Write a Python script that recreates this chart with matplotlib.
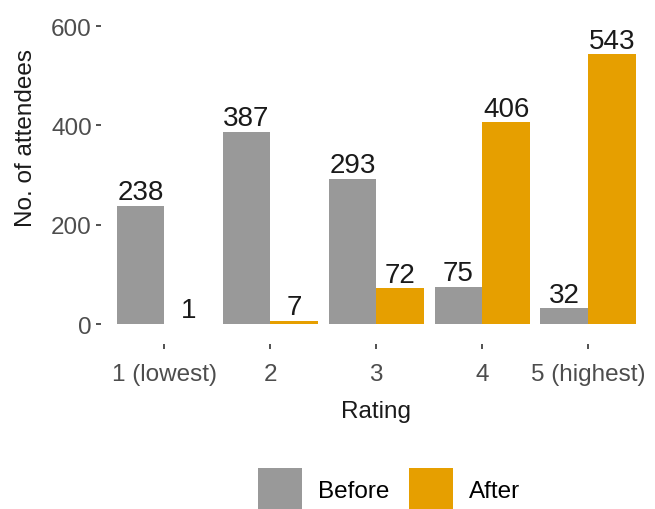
import matplotlib
matplotlib.use("Agg")
import matplotlib.pyplot as plt
import numpy as np
from matplotlib.patches import Patch

plt.rcParams['font.family'] = ['Liberation Sans', 'DejaVu Sans']

categories = ["1 (lowest)", "2", "3", "4", "5 (highest)"]
before = [238, 387, 293, 75, 32]
after = [1, 7, 72, 406, 543]
series_names = ["Before", "After"]
colors = ["#999999", "#E69F00"]
yticks = [0, 200, 400, 600]

fig = plt.figure(figsize=(6.55, 5.10), dpi=100)
ax = fig.add_axes([0.154, 0.3235, 0.841, 0.6565])

x = np.arange(1, len(categories) + 1)
w = 0.45
for vals, off, col in [(before, -w / 2, colors[0]), (after, w / 2, colors[1])]:
    ax.bar(x + off, vals, width=w, color=col, linewidth=0)
    for xi, v in zip(x + off, vals):
        ax.annotate(str(v), (xi, v), xytext=(0, 0.5), textcoords="offset points",
                    ha="center", va="bottom", fontsize=20, color="#1a1a1a")

ax.set_xlim(0.4, 5.6)
ax.set_ylim(-40, 634)
ax.set_xticks(x)
ax.set_xticklabels(categories)
ax.set_yticks(yticks)
for s in ax.spines.values():
    s.set_visible(False)
ax.tick_params(axis="both", colors="#333333", labelcolor="#4d4d4d", labelsize=17.5,
               length=3.5, width=1.2)
ax.tick_params(axis="x", pad=10)
ax.tick_params(axis="y", pad=3)
ax.set_xlabel("Rating", fontsize=17.5, color="#1a1a1a", labelpad=11)
ax.set_ylabel("No. of attendees", fontsize=17.5, color="#1a1a1a")
ax.yaxis.set_label_coords(-0.116, 0.618)

handles = [Patch(facecolor=c, edgecolor="none", label=n) for c, n in zip(colors, series_names)]
fig.legend(handles=handles, loc="center", bbox_to_anchor=(0.594, 1 - 491 / 510), ncol=2,
           frameon=False, fontsize=17.5, handlelength=1.81, handleheight=2.41,
           handletextpad=0.66, columnspacing=0.78, borderaxespad=0, borderpad=0)

fig.savefig("out.png", dpi=100)
